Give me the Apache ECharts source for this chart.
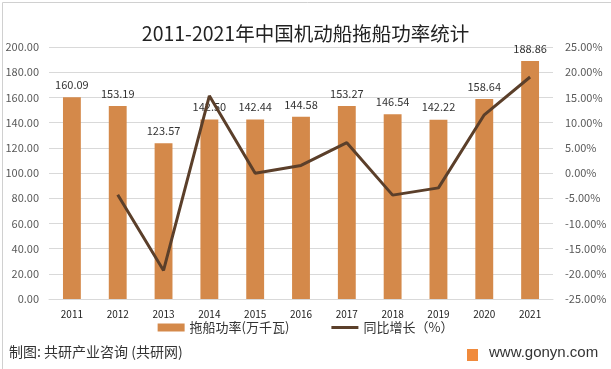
<!DOCTYPE html>
<html><head><meta charset="utf-8">
<script src="https://cdn.jsdelivr.net/npm/echarts@6/dist/echarts.min.js"></script>
<style>html,body{margin:0;padding:0;background:#fff}#c{width:611px;height:369px}</style>
</head><body><div id="c"></div>
<script>
const years = ['2011','2012','2013','2014','2015','2016','2017','2018','2019','2020','2021'];
const power = [160.09,153.19,123.57,142.50,142.44,144.58,153.27,146.54,142.22,158.64,188.86];
const growth = [null,-4.31,-19.34,15.32,-0.04,1.50,6.01,-4.39,-2.95,11.55,19.05];
const leftTicks = [0,200,20];
const rightTicks = [-25,25,5];

const chart = echarts.init(document.getElementById('c'), null, {renderer:'canvas'});
const F = '"Noto Sans CJK SC","Microsoft YaHei",sans-serif';
chart.setOption({
  animation:false,
  backgroundColor:'#fff',
  title:{text:'2011-2021年中国机动船拖船功率统计',left:'center',top:19,
    textStyle:{fontFamily:F,fontSize:19.5,fontWeight:'normal',color:'#222'}},
  grid:{left:49,right:58,top:47,bottom:70},
  legend:{bottom:30,left:'center',itemGap:42,itemWidth:27,itemHeight:8,
    textStyle:{fontFamily:F,fontSize:13,color:'#333'},
    data:[{name:'拖船功率(万千瓦)',icon:'rect'},{name:'同比增长（%）',icon:'path://M0,0 L27,0 L27,3 L0,3 Z'}]},
  xAxis:{type:'category',data:years,
    axisLine:{lineStyle:{color:'#d9d9d9'}},axisTick:{show:false},
    axisLabel:{fontFamily:F,fontSize:10,color:'#222',margin:10}},
  yAxis:[
    {type:'value',min:leftTicks[0],max:leftTicks[1],interval:leftTicks[2],
      axisLabel:{formatter:v=>v.toFixed(2),fontFamily:F,fontSize:11,color:'#595959',margin:10},
      splitLine:{lineStyle:{color:'#d9d9d9'}},axisLine:{show:false},axisTick:{show:false}},
    {type:'value',min:rightTicks[0],max:rightTicks[1],interval:rightTicks[2],
      axisLabel:{formatter:v=>v.toFixed(2)+'%',fontFamily:F,fontSize:11,color:'#595959',margin:12},
      splitLine:{show:false},axisLine:{show:false},axisTick:{show:false}}
  ],
  series:[
    {name:'拖船功率(万千瓦)',type:'bar',data:power,barWidth:'39%',
      itemStyle:{color:'#D4894A'},
      label:{show:true,position:'top',distance:7,formatter:p=>p.value.toFixed(2),
        fontFamily:F,fontSize:11,color:'#333'}},
    {name:'同比增长（%）',type:'line',yAxisIndex:1,data:growth,
      symbol:'none',lineStyle:{color:'#5B3F2A',width:3},itemStyle:{color:'#5B3F2A'}}
  ],
  graphic:[
    {type:'rect',left:0,top:0,shape:{width:610,height:368},style:{fill:'none',stroke:'#d0d0d0',lineWidth:1}},
    {type:'text',left:9,top:345,style:{text:'制图: 共研产业咨询 (共研网)',font:'14px '+F,fill:'#333'}},
    {type:'rect',left:467,top:349,shape:{width:11,height:12},style:{fill:'#F08A3C'}},
    {type:'text',left:489,top:345,style:{text:'www.gonyn.com',font:'15px "Liberation Sans",Arial,sans-serif',fill:'#333'}}
  ]
});
</script></body></html>
